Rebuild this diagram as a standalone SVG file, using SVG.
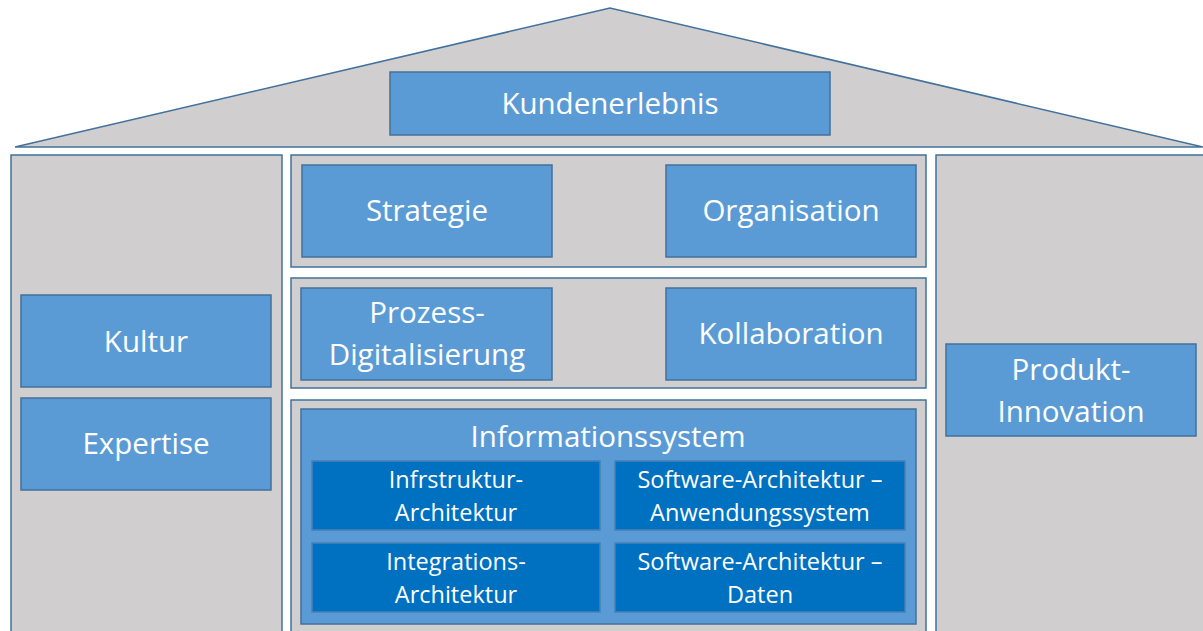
<svg xmlns="http://www.w3.org/2000/svg" width="1203" height="631" viewBox="0 0 1203 631">
  <style>
    .frame { fill: #d0cece; stroke: #41719c; stroke-width: 1.5; }
    .box { fill: #5b9bd5; stroke: #41719c; stroke-width: 1.5; }
    .dark { fill: #0070c0; stroke: #4a7fb5; stroke-width: 1.5; }
    .t { font-family: "Open Sans", "Noto Sans", "Liberation Sans", sans-serif; fill: #ffffff; text-anchor: middle; }
    .big { font-size: 29.5px; }
    .small { font-size: 23.5px; }
  </style>
  <rect width="1203" height="631" fill="#ffffff"/>

  <!-- roof -->
  <g id="roof">
    <polygon class="frame" points="15,147 610,8 1203,147"/>
  </g>
  <g id="kundenerlebnis">
    <rect class="box" x="390" y="72" width="440" height="63"/>
    <text class="t big" x="610" y="114">Kundenerlebnis</text>
  </g>

  <!-- left pillar -->
  <g id="pillar-left">
    <rect class="frame" x="11" y="155" width="271" height="490"/>
  </g>
  <g id="kultur">
    <rect class="box" x="21" y="295" width="250" height="92"/>
    <text class="t big" x="146" y="352">Kultur</text>
  </g>
  <g id="expertise">
    <rect class="box" x="21" y="398" width="250" height="92"/>
    <text class="t big" x="146" y="454">Expertise</text>
  </g>

  <!-- middle rows -->
  <g id="row-1">
    <rect class="frame" x="291" y="155" width="635" height="112"/>
  </g>
  <g id="strategie">
    <rect class="box" x="302" y="165" width="250" height="92"/>
    <text class="t big" x="427" y="221">Strategie</text>
  </g>
  <g id="organisation">
    <rect class="box" x="666" y="165" width="250" height="92"/>
    <text class="t big" x="791" y="221">Organisation</text>
  </g>

  <g id="row-2">
    <rect class="frame" x="291" y="278" width="635" height="110"/>
  </g>
  <g id="prozess-digitalisierung">
    <rect class="box" x="301" y="288" width="251" height="92"/>
    <text class="t big" x="427" y="323">Prozess-</text>
    <text class="t big" x="427" y="365">Digitalisierung</text>
  </g>
  <g id="kollaboration">
    <rect class="box" x="666" y="288" width="250" height="92"/>
    <text class="t big" x="791" y="344">Kollaboration</text>
  </g>

  <g id="row-3">
    <rect class="frame" x="291" y="400" width="635" height="245"/>
  </g>
  <g id="informationssystem">
    <rect class="box" x="301" y="409" width="615" height="215"/>
    <text class="t big" x="608" y="447">Informationssystem</text>
  </g>
  <g id="infrastruktur-architektur">
    <rect class="dark" x="312" y="461" width="288" height="69"/>
    <text class="t small" x="456" y="488">Infrstruktur-</text>
    <text class="t small" x="456" y="521">Architektur</text>
  </g>
  <g id="software-anwendungssystem">
    <rect class="dark" x="615" y="461" width="290" height="69"/>
    <text class="t small" x="760" y="488">Software-Architektur –</text>
    <text class="t small" x="760" y="521">Anwendungssystem</text>
  </g>
  <g id="integrations-architektur">
    <rect class="dark" x="312" y="543" width="288" height="69"/>
    <text class="t small" x="456" y="570">Integrations-</text>
    <text class="t small" x="456" y="603">Architektur</text>
  </g>
  <g id="software-daten">
    <rect class="dark" x="615" y="543" width="290" height="69"/>
    <text class="t small" x="760" y="570">Software-Architektur –</text>
    <text class="t small" x="760" y="603">Daten</text>
  </g>

  <!-- right pillar -->
  <g id="pillar-right">
    <rect class="frame" x="936" y="155" width="280" height="490"/>
  </g>
  <g id="produkt-innovation">
    <rect class="box" x="946" y="344" width="250" height="92"/>
    <text class="t big" x="1071" y="380">Produkt-</text>
    <text class="t big" x="1071" y="422">Innovation</text>
  </g>

  <g id="connectors"/>
</svg>
